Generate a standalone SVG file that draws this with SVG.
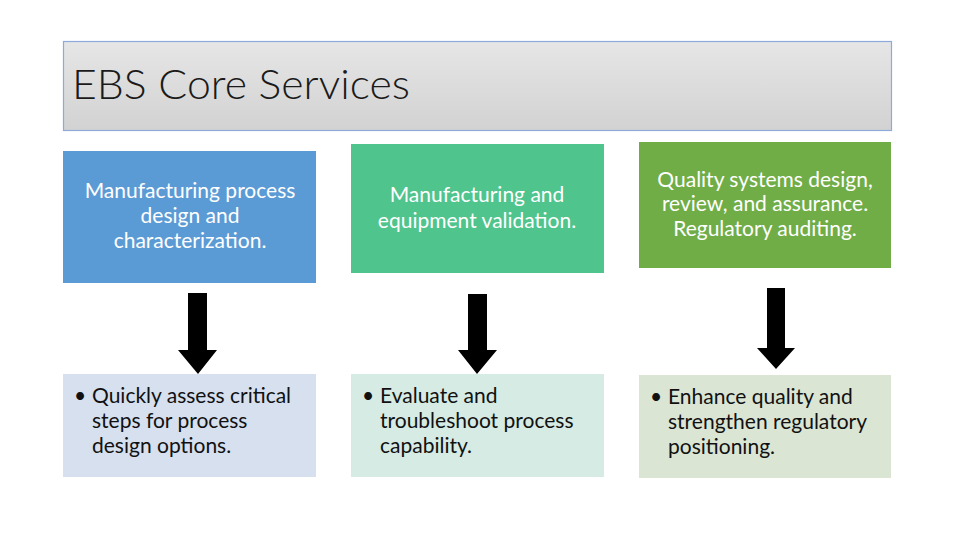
<svg xmlns="http://www.w3.org/2000/svg" width="955" height="537" viewBox="0 0 955 537">
<style>
.hdr{fill:#fff;font-family:Lato,"Liberation Sans",sans-serif;font-size:21px;text-anchor:middle}
.body{fill:#111;font-family:Lato,"Liberation Sans",sans-serif;font-size:21px}
.arrow{fill:#000}
</style>
<defs>
<linearGradient id="tg" x1="0" y1="0" x2="0" y2="1">
<stop offset="0" stop-color="#e6e6e6"/>
<stop offset="1" stop-color="#d2d2d2"/>
</linearGradient>
</defs>
<rect width="955" height="537" fill="#fff"/>
<g id="title">
<rect x="63.5" y="41.5" width="828" height="89" fill="url(#tg)" stroke="#8eaadb" stroke-width="1.2"/>
<text x="72" y="99" font-family="Lato,'Liberation Sans',sans-serif" font-weight="300" font-size="42" fill="#1a1a1a" textLength="338" lengthAdjust="spacingAndGlyphs">EBS Core Services</text>
</g>
<g id="node1">
<rect x="63" y="151" width="253" height="132" fill="#5b9bd5"/>
<text class="hdr" x="190" y="198">Manufacturing process</text>
<text class="hdr" x="190" y="223">design and</text>
<text class="hdr" x="190" y="248">characterization.</text>
</g>
<g id="node2">
<rect x="351" y="144" width="253" height="129" fill="#4fc48c"/>
<text class="hdr" x="477" y="202">Manufacturing and</text>
<text class="hdr" x="477" y="228">equipment validation.</text>
</g>
<g id="node3">
<rect x="639" y="142" width="252" height="126" fill="#70ad47"/>
<text class="hdr" x="765" y="187">Quality systems design,</text>
<text class="hdr" x="765" y="211">review, and assurance.</text>
<text class="hdr" x="765" y="236">Regulatory auditing.</text>
</g>
<g id="node4">
<rect x="63" y="374" width="253" height="103" fill="#d6e0ef"/>
<text class="body" x="74" y="403">•</text>
<text class="body" x="92" y="403">Quickly assess critical</text>
<text class="body" x="92" y="428">steps for process</text>
<text class="body" x="92" y="453">design options.</text>
</g>
<g id="node5">
<rect x="351" y="374" width="253" height="103" fill="#d5ebe3"/>
<text class="body" x="362" y="403">•</text>
<text class="body" x="380" y="403">Evaluate and</text>
<text class="body" x="380" y="428">troubleshoot process</text>
<text class="body" x="380" y="453">capability.</text>
</g>
<g id="node6">
<rect x="639" y="375" width="252" height="103" fill="#dbe5d4"/>
<text class="body" x="650" y="404">•</text>
<text class="body" x="668" y="404">Enhance quality and</text>
<text class="body" x="668" y="429">strengthen regulatory</text>
<text class="body" x="668" y="454">positioning.</text>
</g>
<g id="connectors">
<polygon class="arrow" points="188,293 207,293 207,350 217,350 198,374 178,350 188,350"/>
<polygon class="arrow" points="468,294 487,294 487,350 497,350 477,374 458,350 468,350"/>
<polygon class="arrow" points="767,288 785,288 785,348 795,348 776,369 757,348 767,348"/>
</g>
</svg>
